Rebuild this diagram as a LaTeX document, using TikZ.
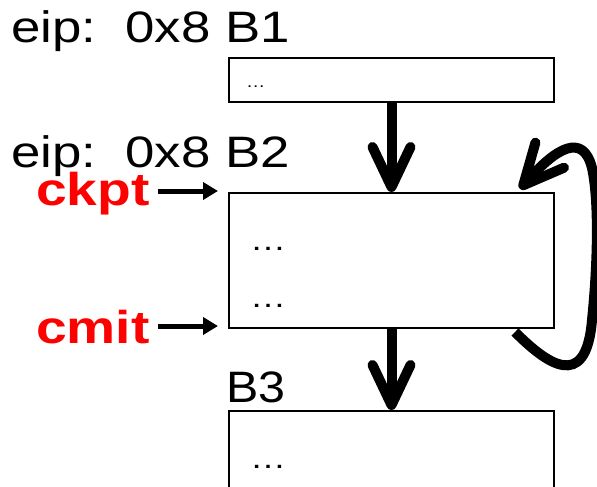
\documentclass[tikz,border=0pt]{standalone}
\usepackage{fontspec}
\setmainfont{Liberation Sans}
\usetikzlibrary{arrows.meta,calc}

% horizontally widened text
\newcommand{\widetext}[2]{\scalebox{#1}[1]{#2}}

\tikzset{
  block/.style={draw, line width=2pt, inner sep=0pt, anchor=north west},
  blocktitle/.style={inner sep=0pt, anchor=base west, font=\fontsize{44}{44}\selectfont},
  redtag/.style={inner sep=0pt, anchor=base west, text=red, font=\fontsize{46}{46}\selectfont\bfseries},
  dots/.style={inner sep=0pt, anchor=base west},
  flow/.style={line width=10pt, -{Straight Barb[length=40pt,width=38pt,round]}},
  ptr/.style={line width=5pt, -{Triangle[length=15pt,width=17pt]}},
}

\begin{document}
\begin{tikzpicture}[x=1pt, y=-1pt]
  \clip (0,0) rectangle (597,487);
  \fill[white] (0,0) rectangle (597,487);

  % basic blocks
  \node[block, minimum width=325pt, minimum height=44pt]  (b1) at (228,57)  {};
  \node[block, minimum width=325pt, minimum height=135pt] (b2) at (228,192) {};
  \node[block, minimum width=325pt, minimum height=110pt] (b3) at (228,410) {};

  % block titles
  \node[blocktitle] (l1) at (11,43)  {\widetext{1.2}{eip:\hspace{0.55em}0x8 B1}};
  \node[blocktitle] (l2) at (11,167) {\widetext{1.2}{eip:\hspace{0.55em}0x8 B2}};
  \node[blocktitle] (l3) at (226,402) {\widetext{1.1}{B3}};

  % block contents
  \node[dots, font=\fontsize{16}{16}\selectfont] (d1) at (246,88) {\widetext{1.2}{\ldots}};
  \node[dots, font=\fontsize{30}{30}\selectfont] (d2) at (250,250) {\widetext{1.2}{\ldots}};
  \node[dots, font=\fontsize{30}{30}\selectfont] (d3) at (250,307) {\widetext{1.2}{\ldots}};
  \node[dots, font=\fontsize{30}{30}\selectfont] (d4) at (250,468) {\widetext{1.2}{\ldots}};

  % checkpoint / commit markers
  \node[redtag] (ck) at (36,205) {\widetext{1.2}{ckpt}};
  \node[redtag] (cm) at (36,343) {\widetext{1.2}{cmit}};
  \draw[ptr] ($(ck.east |- b2.north west)+(8,-1)$) -- ($(b2.north west)+(-10,-1)$);
  \draw[ptr] ($(cm.east |- b2.south west)+(8,-3)$) -- ($(b2.south west)+(-10,-3)$);

  % control flow
  \draw[flow] (b1.south) -- (b2.north);
  \draw[flow] (b2.south) -- (b3.north);
  \coordinate (loopstart) at ($(b2.south east)+(-40,3)$);
  \coordinate (looptip)   at ($(b2.north east)+(-35,-3)$);
  \draw[flow] (loopstart) .. controls (545,362) and (586,394) .. (592,320)
              .. controls (598,262) and (599,200) .. (592,168)
              .. controls (583,132) and (556,148) .. (looptip);
\end{tikzpicture}
\end{document}
